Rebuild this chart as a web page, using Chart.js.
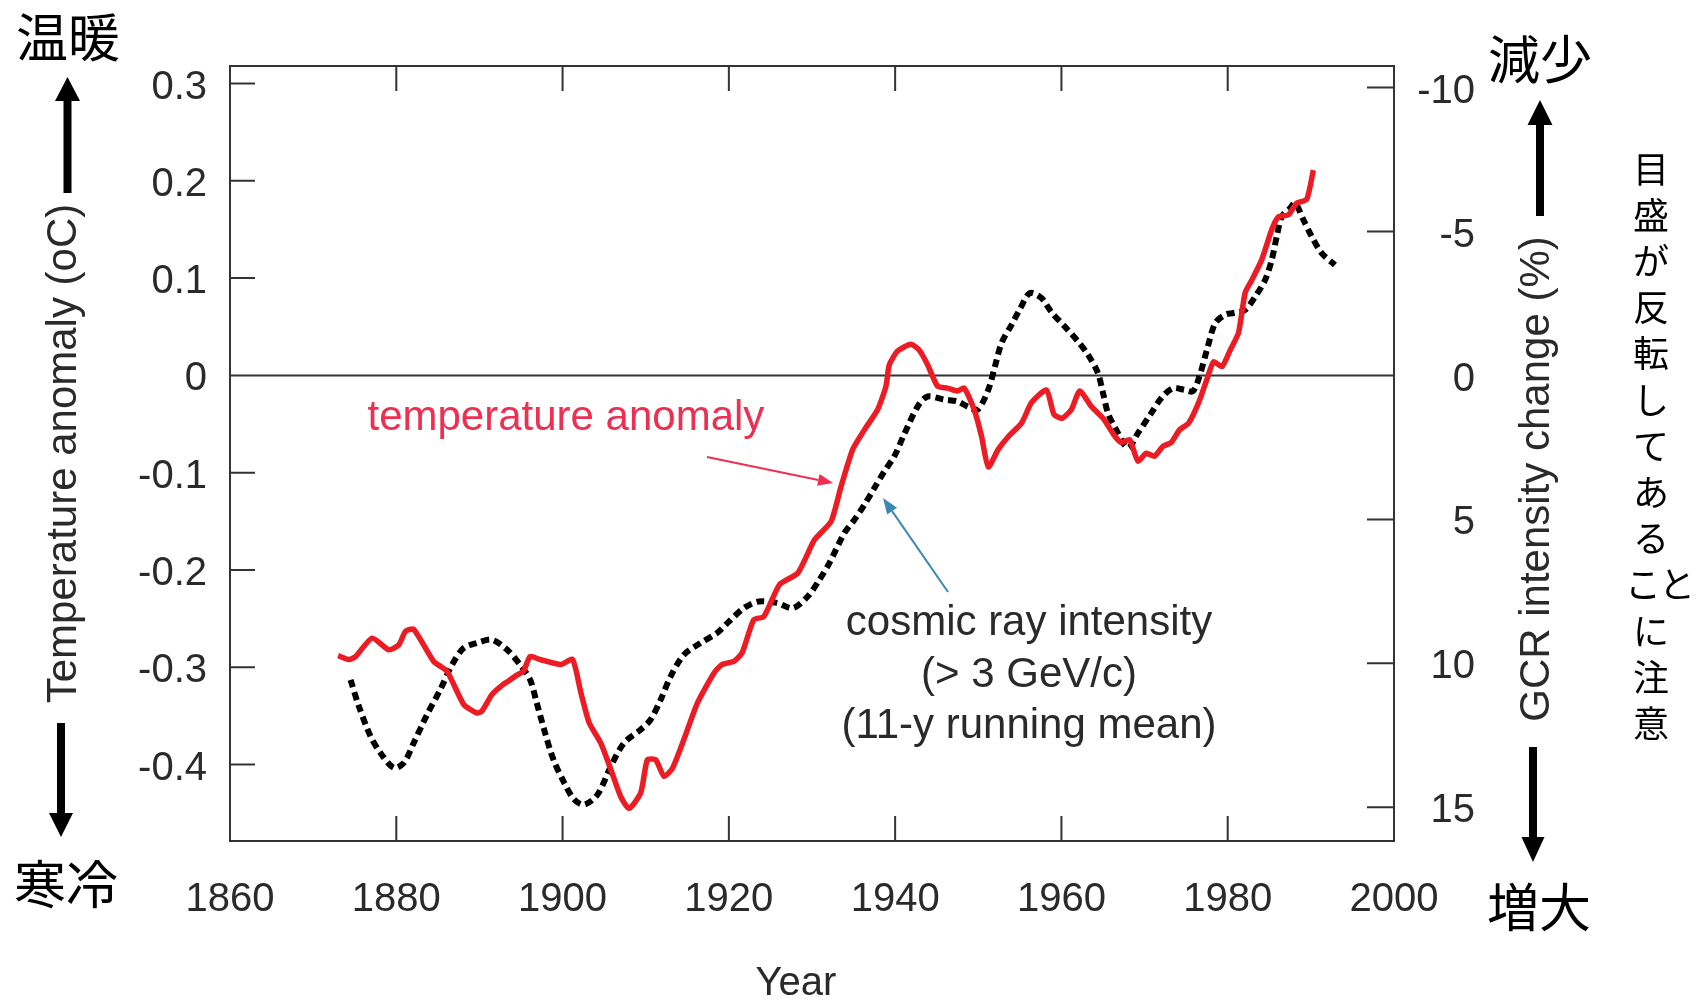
<!DOCTYPE html>
<html><head><meta charset="utf-8">
<script src="https://cdn.jsdelivr.net/npm/chart.js@4.4.1/dist/chart.umd.min.js"></script>
<style>html,body{margin:0;padding:0;background:#fff;}canvas{display:block;}</style>
</head><body>
<canvas id="c" width="1697" height="1001"></canvas>
<script>
// ---- data ----
const tempYears = [1873.0,1874.3,1875.1,1877.1,1879.1,1880.3,1881.1,1882.1,1884.5,1886.1,1888.1,1889.7,1890.3,1891.5,1892.5,1893.5,1894.5,1895.3,1896.1,1897.3,1899.8,1901.2,1902.2,1903.2,1904.6,1905.8,1907.0,1908.0,1909.4,1910.2,1911.2,1912.2,1913.2,1914.6,1916.2,1918.2,1919.2,1920.6,1921.6,1923.0,1924.2,1926.1,1928.3,1930.3,1932.3,1933.5,1934.9,1936.3,1937.9,1938.9,1939.3,1940.3,1941.9,1942.9,1943.9,1945.1,1946.3,1947.5,1948.3,1949.5,1950.4,1951.2,1952.4,1953.6,1955.2,1956.4,1958.2,1959.1,1960.1,1961.2,1962.2,1963.6,1965.1,1966.3,1967.2,1968.2,1969.2,1970.2,1971.2,1972.2,1973.2,1974.2,1975.3,1976.5,1977.5,1978.3,1979.3,1980.3,1981.3,1982.1,1982.9,1984.1,1985.3,1986.1,1987.3,1988.3,1989.5,1990.3];
const tempValues = [-0.288,-0.292,-0.289,-0.270,-0.282,-0.277,-0.263,-0.261,-0.294,-0.304,-0.338,-0.347,-0.345,-0.328,-0.320,-0.314,-0.308,-0.304,-0.289,-0.292,-0.297,-0.292,-0.326,-0.357,-0.378,-0.405,-0.433,-0.445,-0.429,-0.395,-0.395,-0.412,-0.404,-0.374,-0.337,-0.306,-0.297,-0.294,-0.285,-0.251,-0.248,-0.215,-0.203,-0.169,-0.150,-0.114,-0.076,-0.056,-0.035,-0.011,0.011,0.025,0.032,0.026,0.011,-0.011,-0.013,-0.016,-0.013,-0.035,-0.063,-0.094,-0.076,-0.063,-0.049,-0.028,-0.015,-0.040,-0.044,-0.035,-0.016,-0.032,-0.045,-0.061,-0.069,-0.066,-0.088,-0.080,-0.083,-0.073,-0.069,-0.056,-0.049,-0.028,-0.004,0.014,0.009,0.026,0.044,0.085,0.098,0.119,0.150,0.163,0.165,0.177,0.181,0.211];

const gcrYears = [1874.5,1875.5,1876.9,1878.1,1879.7,1880.9,1882.1,1883.7,1885.3,1886.7,1888.1,1889.7,1891.5,1893.3,1894.9,1896.1,1896.9,1897.9,1898.9,1900.2,1901.4,1902.6,1904.2,1905.8,1907.4,1909.4,1910.6,1911.8,1913.0,1914.6,1916.6,1918.6,1920.0,1921.8,1923.6,1925.8,1927.7,1929.5,1930.9,1932.1,1933.9,1935.1,1936.3,1937.5,1938.7,1939.9,1941.0,1942.7,1943.9,1945.9,1947.5,1948.7,1949.9,1951.2,1952.0,1952.8,1954.0,1955.0,1956.2,1957.6,1958.8,1960.4,1962.0,1963.2,1964.4,1965.0,1965.6,1966.6,1968.0,1969.2,1970.8,1972.0,1973.4,1974.8,1975.8,1976.6,1977.5,1978.5,1979.7,1980.7,1982.1,1983.3,1984.5,1985.3,1985.9,1986.5,1987.5,1988.1,1989.1,1990.1,1991.3,1992.9];
const gcrValues = [10.57,11.49,12.53,13.11,13.63,13.46,12.76,11.78,10.91,10.05,9.47,9.29,9.18,9.52,10.05,10.57,11.38,12.42,13.34,14.15,14.73,14.91,14.56,13.58,12.76,12.30,11.95,11.26,10.45,9.70,9.29,8.94,8.55,8.08,7.85,7.90,8.08,7.67,7.09,6.51,5.47,5.01,4.49,3.91,3.33,2.81,2.10,1.08,0.73,0.84,0.90,1.08,1.19,0.50,-0.31,-1.13,-1.76,-2.30,-2.86,-2.69,-2.20,-1.70,-1.18,-0.72,-0.08,0.61,1.31,1.89,2.52,2.00,1.31,0.79,0.44,0.50,0.55,0.03,-0.89,-1.82,-2.11,-2.17,-2.28,-2.74,-3.32,-4.02,-4.83,-5.52,-5.81,-5.99,-5.41,-4.83,-4.25,-3.84];

const xTicks = [1860,1880,1900,1920,1940,1960,1980,2000];
const xTickLabels = ['1860','1880','1900','1920','1940','1960','1980','2000'];
const tempTicks = [-0.4,-0.3,-0.2,-0.1,0,0.1,0.2,0.3];
const tempTickLabels = ['-0.4','-0.3','-0.2','-0.1','0','0.1','0.2','0.3'];
const gcrTicks = [-10,-5,0,5,10,15];
const gcrTickLabels = ['-10','-5','0','5','10','15'];
const xRange = [1860, 2000];
const tempRange = [-0.4785, 0.318];
const gcrRange = [-10.75, 16.17];

const seriesNames = ['temperature anomaly', 'cosmic ray intensity'];
const cosmicLines = ['cosmic ray intensity', '(> 3 GeV/c)', '(11-y running mean)'];
const noteChars = ['目','盛','が','反','転','し','て','あ','る','こと','に','注','意'];

// ---- styling ----
const SANS = "'Liberation Sans', Arial, Helvetica, sans-serif";
const CJK = "'Noto Sans CJK JP', sans-serif";
const TXT = '#2a2a2a';
const RED = '#ed1c24';
const RED_TXT = '#ef2f52';
const BLUE = '#3a88b5';

function arrow(ctx, x1, y1, x2, y2, w, hl, hw, color) {
  const a = Math.atan2(y2 - y1, x2 - x1);
  const bx = x2 - hl * Math.cos(a), by = y2 - hl * Math.sin(a);
  ctx.strokeStyle = color; ctx.fillStyle = color; ctx.lineWidth = w; ctx.lineCap = 'butt';
  ctx.beginPath(); ctx.moveTo(x1, y1); ctx.lineTo(bx, by); ctx.stroke();
  ctx.beginPath(); ctx.moveTo(x2, y2);
  ctx.lineTo(bx + hw / 2 * Math.sin(a), by - hw / 2 * Math.cos(a));
  ctx.lineTo(bx - hw / 2 * Math.sin(a), by + hw / 2 * Math.cos(a));
  ctx.closePath(); ctx.fill();
}

const framePlugin = {
  id: 'frame',
  beforeDatasetsDraw(chart) {
    const {ctx, chartArea: a, scales} = chart;
    const TL = 25;
    ctx.save();
    ctx.strokeStyle = '#333'; ctx.lineWidth = 2;
    ctx.strokeRect(a.left, a.top, a.right - a.left, a.bottom - a.top);
    ctx.beginPath();
    const y0 = scales.y.getPixelForValue(0);
    ctx.moveTo(a.left, y0); ctx.lineTo(a.right, y0);
    xTicks.forEach(v => {
      if (v <= xRange[0] || v >= xRange[1]) return;
      const px = scales.x.getPixelForValue(v);
      ctx.moveTo(px, a.bottom); ctx.lineTo(px, a.bottom - TL);
      ctx.moveTo(px, a.top); ctx.lineTo(px, a.top + TL);
    });
    tempTicks.forEach(v => {
      const py = scales.y.getPixelForValue(v);
      ctx.moveTo(a.left, py); ctx.lineTo(a.left + TL, py);
    });
    gcrTicks.forEach(v => {
      const py = scales.y2.getPixelForValue(v);
      ctx.moveTo(a.right - 27, py); ctx.lineTo(a.right, py);
    });
    ctx.stroke();
    ctx.restore();
  },
  afterDraw(chart) {
    const {ctx, scales} = chart;
    const X = v => scales.x.getPixelForValue(v);
    const Y = v => scales.y.getPixelForValue(v);
    ctx.save();
    // in-plot annotations
    ctx.font = '42px ' + SANS; ctx.fillStyle = RED_TXT; ctx.textAlign = 'center'; ctx.textBaseline = 'alphabetic';
    ctx.fillText(seriesNames[0], X(1900.4), Y(-0.0561));
    arrow(ctx, X(1917.37), Y(-0.0838), X(1932.53), Y(-0.1106), 2, 15, 12, RED_TXT);
    arrow(ctx, X(1946.36), Y(-0.2226), X(1938.54), Y(-0.126), 2, 16, 12, BLUE);
    ctx.font = '42px ' + SANS; ctx.fillStyle = TXT;
    const cy = [-0.2668, -0.3202, -0.3726];
    cosmicLines.forEach((t, i) => ctx.fillText(t, X(1956.1), Y(cy[i])));

    // x axis title
    ctx.font = '40px ' + SANS; ctx.fillStyle = TXT; ctx.textBaseline = 'alphabetic';
    ctx.fillText('Year', 796, 995);

    // right axis title (reads bottom to top)
    ctx.save();
    ctx.translate(1537, 479); ctx.rotate(-Math.PI / 2);
    ctx.font = '42px ' + SANS; ctx.textBaseline = 'middle'; ctx.fillStyle = TXT;
    ctx.fillText('GCR intensity change (%)', 0, 0);
    ctx.restore();

    // Japanese labels + arrows outside the plot
    ctx.fillStyle = '#000'; ctx.font = '52px ' + CJK; ctx.textBaseline = 'middle'; ctx.textAlign = 'center';
    ctx.fillText('温暖', 68, 37);
    ctx.fillText('寒冷', 66, 884);
    ctx.fillText('減少', 1540, 59);
    ctx.fillText('増大', 1539, 907);
    arrow(ctx, 67.5, 193, 67.5, 77, 8, 24, 25, '#000');
    arrow(ctx, 61, 723, 61, 837, 8, 24, 24, '#000');
    arrow(ctx, 1540, 216, 1540, 100, 8, 25, 25, '#000');
    arrow(ctx, 1533, 747, 1533, 862, 8, 25, 23, '#000');

    ctx.font = '36px ' + CJK; ctx.fillStyle = '#000';
    noteChars.forEach((ch, i) => {
      const yy = 169 + 46.2 * i;
      if (ch.length === 2) {
        ctx.fillText(ch[0], 1643, yy);
        ctx.fillText(ch[1], 1677, yy);
      } else {
        ctx.fillText(ch, 1651, yy);
      }
    });
    ctx.restore();
  }
};

const tickFont = {family: SANS, size: 40};

new Chart(document.getElementById('c'), {
  type: 'line',
  data: {
    datasets: [
      {
        label: seriesNames[0],
        data: tempYears.map((x, i) => ({x, y: tempValues[i]})),
        yAxisID: 'y', borderColor: RED, borderWidth: 5.5, pointRadius: 0,
        tension: 0.2, fill: false, borderJoinStyle: 'round'
      },
      {
        label: seriesNames[1],
        data: gcrYears.map((x, i) => ({x, y: gcrValues[i]})),
        yAxisID: 'y2', borderColor: '#000', borderWidth: 6, borderDash: [8, 5],
        borderCapStyle: 'butt', pointRadius: 0, tension: 0.3, fill: false
      }
    ]
  },
  options: {
    responsive: false, animation: false, devicePixelRatio: 1,
    layout: {padding: {left: 0, top: 66, right: 222, bottom: 0}},
    plugins: {legend: {display: false}, tooltip: {enabled: false}},
    scales: {
      x: {
        type: 'linear', position: 'bottom', min: xRange[0], max: xRange[1],
        afterBuildTicks: s => { s.ticks = xTicks.map(v => ({value: v})); },
        ticks: {callback: (v, i) => xTickLabels[i], font: tickFont, color: TXT, padding: 35, maxRotation: 0, autoSkip: false},
        grid: {display: false, drawTicks: false}, border: {display: false},
        title: {display: false},
        afterFit: s => { s.height = 160; }
      },
      y: {
        type: 'linear', position: 'left', min: tempRange[0], max: tempRange[1],
        afterBuildTicks: s => { s.ticks = tempTicks.map(v => ({value: v})); },
        ticks: {callback: (v, i) => tempTickLabels[i], font: tickFont, color: TXT, padding: 23, labelOffset: 4, autoSkip: false},
        grid: {display: false, drawTicks: false}, border: {display: false},
        title: {display: true, text: 'Temperature anomaly (oC)', font: {family: SANS, size: 42}, color: TXT, padding: {top: 39, bottom: 0}},
        afterFit: s => { s.width = 230; }
      },
      y2: {
        type: 'linear', position: 'right', reverse: true, min: gcrRange[0], max: gcrRange[1],
        afterBuildTicks: s => { s.ticks = gcrTicks.map(v => ({value: v})); },
        ticks: {callback: (v, i) => gcrTickLabels[i], font: tickFont, color: TXT, padding: 0, labelOffset: 4, crossAlign: 'far', autoSkip: false},
        grid: {display: false, drawTicks: false}, border: {display: false},
        afterFit: s => { s.width = 81; }
      }
    }
  },
  plugins: [framePlugin]
});
</script>
</body></html>
